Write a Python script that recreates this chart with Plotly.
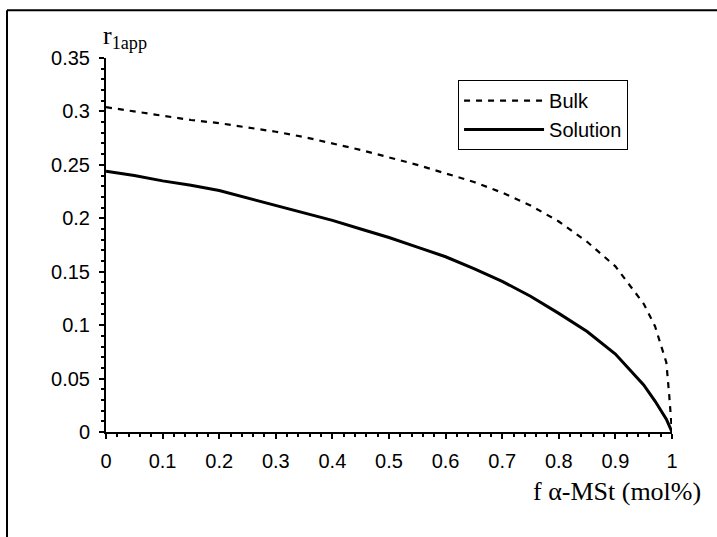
import plotly.graph_objects as go

# Data
x_bulk = [0, 0.05, 0.1, 0.15, 0.2, 0.25, 0.3, 0.35, 0.4, 0.45, 0.5, 0.55, 0.6,
          0.65, 0.7, 0.75, 0.8, 0.85, 0.9, 0.95, 0.97, 0.99, 0.995, 1.0]
y_bulk = [0.304, 0.300, 0.296, 0.292, 0.289, 0.285, 0.281, 0.276, 0.270, 0.264,
          0.257, 0.250, 0.242, 0.234, 0.224, 0.212, 0.197, 0.178, 0.155, 0.120,
          0.099, 0.065, 0.035, 0.0]

x_sol = [0, 0.05, 0.1, 0.15, 0.2, 0.25, 0.3, 0.35, 0.4, 0.45, 0.5, 0.55, 0.6,
         0.65, 0.7, 0.75, 0.8, 0.85, 0.9, 0.95, 0.97, 0.99, 1.0]
y_sol = [0.244, 0.240, 0.235, 0.231, 0.226, 0.219, 0.212, 0.205, 0.198, 0.190,
         0.182, 0.173, 0.164, 0.153, 0.141, 0.127, 0.111, 0.094, 0.073, 0.044,
         0.029, 0.012, 0.0]

x_ticks = [0, 0.1, 0.2, 0.3, 0.4, 0.5, 0.6, 0.7, 0.8, 0.9, 1]
x_ticklabels = ["0", "0.1", "0.2", "0.3", "0.4", "0.5", "0.6", "0.7", "0.8", "0.9", "1"]
y_ticks = [0, 0.05, 0.1, 0.15, 0.2, 0.25, 0.3, 0.35]
y_ticklabels = ["0", "0.05", "0.1", "0.15", "0.2", "0.25", "0.3", "0.35"]

SANS = "Arial, Liberation Sans, sans-serif"
SERIF = "Times New Roman, Liberation Serif, serif"

fig = go.Figure()
fig.add_trace(go.Scatter(x=x_bulk, y=y_bulk, mode="lines", name="Bulk",
                         line=dict(color="black", width=2.2, dash="6px,6px")))
fig.add_trace(go.Scatter(x=x_sol, y=y_sol, mode="lines", name="Solution",
                         line=dict(color="black", width=3)))

fig.update_layout(
    width=717, height=537,
    margin=dict(l=106, r=45, t=58, b=105),
    paper_bgcolor="white", plot_bgcolor="white",
    font=dict(family=SANS, size=20, color="black"),
    showlegend=True,
    legend=dict(x=0.622, y=0.941, xanchor="left", yanchor="top",
                bgcolor="white", bordercolor="black", borderwidth=1,
                font=dict(family=SANS, size=20, color="black"),
                itemwidth=80, tracegroupgap=0),
    xaxis=dict(range=[0, 1], tickmode="array", tickvals=x_ticks, ticktext=x_ticklabels,
               showgrid=False, zeroline=False, showline=True, linecolor="black", linewidth=2,
               ticks="outside", ticklen=5, tickwidth=2, tickcolor="black",
               minor=dict(dtick=0.02, ticks="outside", ticklen=3, tickwidth=1.5, tickcolor="black", showgrid=False),
               tickfont=dict(family=SANS, size=20), ticklabelstandoff=5, fixedrange=True),
    yaxis=dict(range=[0, 0.35], tickmode="array", tickvals=y_ticks, ticktext=y_ticklabels,
               showgrid=False, zeroline=False, showline=True, linecolor="black", linewidth=2,
               ticks="outside", ticklen=5, tickwidth=2, tickcolor="black",
               minor=dict(dtick=0.01, ticks="outside", ticklen=3, tickwidth=1.5, tickcolor="black", showgrid=False),
               tickfont=dict(family=SANS, size=20), ticklabelstandoff=5, fixedrange=True),
    xaxis2=dict(range=[0, 1], overlaying="x", anchor="y", side="bottom",
                tickmode="array", tickvals=x_ticks, showticklabels=False,
                showgrid=False, zeroline=False, showline=False,
                ticks="inside", ticklen=5, tickwidth=2, tickcolor="black", fixedrange=True),
    yaxis2=dict(range=[0, 0.35], overlaying="y", anchor="x", side="left",
                tickmode="array", tickvals=y_ticks, showticklabels=False,
                showgrid=False, zeroline=False, showline=False,
                ticks="inside", ticklen=5, tickwidth=2, tickcolor="black", fixedrange=True),
)

fig.add_annotation(text="r<sub>1app</sub>", xref="paper", yref="paper",
                   x=-0.008, y=1.055, xanchor="left", yanchor="middle", showarrow=False,
                   font=dict(family=SERIF, size=26, color="black"))
fig.add_annotation(text="f α-MSt (mol%)", xref="paper", yref="paper",
                   x=1.0548, y=-0.160, xanchor="right", yanchor="middle", showarrow=False,
                   font=dict(family=SERIF, size=26, color="black"))

# outer frame (top and left edges visible in reference)
fig.add_shape(type="line", xref="paper", yref="paper", x0=-0.1749, x1=1.09, y0=1.128, y1=1.128,
              line=dict(color="black", width=2))
fig.add_shape(type="line", xref="paper", yref="paper", x0=-0.1749, x1=-0.1749, y0=1.128, y1=-0.29,
              line=dict(color="black", width=2))

fig.write_html("out.html")
